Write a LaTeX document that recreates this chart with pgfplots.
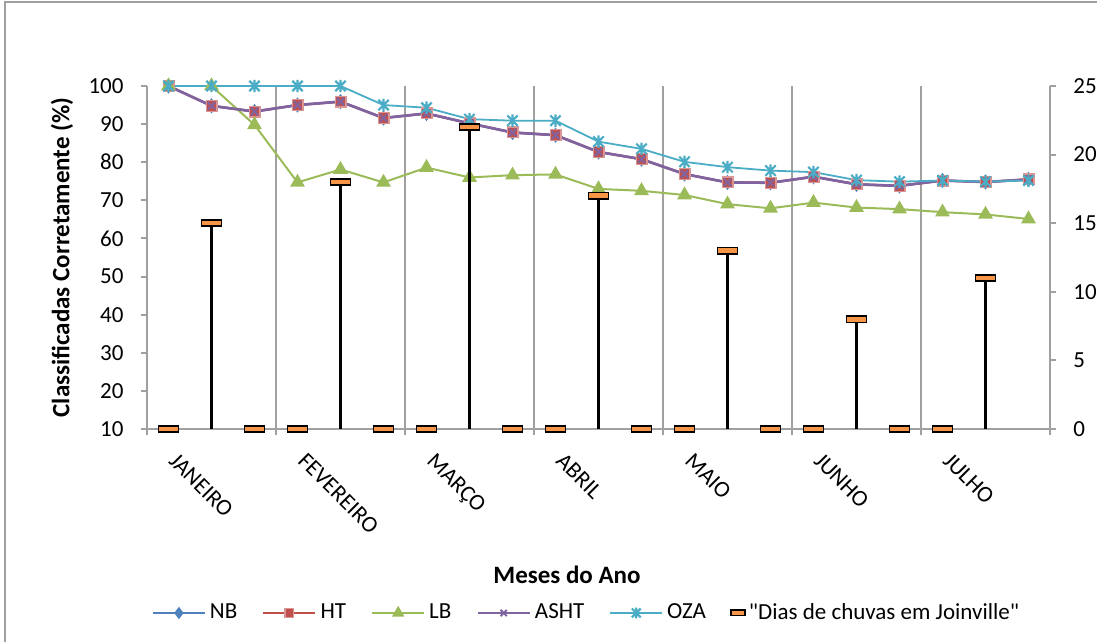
\documentclass[border=0pt]{standalone}
\usepackage{pgfplots}
\pgfplotsset{compat=1.18}
\usepackage{pgfplotstable}
\usepackage{fontspec}
\setmainfont{Carlito}
\definecolor{nbc}{HTML}{4F81BD}
\definecolor{htc}{HTML}{C0504D}
\definecolor{lbc}{HTML}{9BBB59}
\definecolor{ashtc}{HTML}{8064A2}
\definecolor{ozac}{HTML}{4BACC6}
\definecolor{rainc}{HTML}{F79646}
\definecolor{axc}{HTML}{A0A0A0}

\pgfdeclareplotmark{rainbar}{\pgfpathrectangle{\pgfpoint{-5pt}{-1.6pt}}{\pgfpoint{10pt}{3.2pt}}\pgfusepathqfillstroke}
\pgfdeclareplotmark{rainbarsmall}{\pgfpathrectangle{\pgfpoint{-3.5pt}{-1.3pt}}{\pgfpoint{7pt}{2.6pt}}\pgfusepathqfillstroke}
\pgfdeclareplotmark{xstar}{%
 \pgfpathmoveto{\pgfpoint{-\pgfplotmarksize}{-\pgfplotmarksize}}\pgfpathlineto{\pgfpoint{\pgfplotmarksize}{\pgfplotmarksize}}%
 \pgfpathmoveto{\pgfpoint{-\pgfplotmarksize}{\pgfplotmarksize}}\pgfpathlineto{\pgfpoint{\pgfplotmarksize}{-\pgfplotmarksize}}%
 \pgfpathmoveto{\pgfpoint{0pt}{-1.2\pgfplotmarksize}}\pgfpathlineto{\pgfpoint{0pt}{1.2\pgfplotmarksize}}%
 \pgfusepathqstroke}

\pgfplotstableread{
x nb ht lb asht oza
0 100 100 100 100 100
1 94.8 94.8 100 94.8 100
2 93.3 93.3 89.8 93.3 100
3 95.0 95.0 74.7 95.0 100
4 95.9 95.9 78.1 95.9 100
5 91.6 91.6 74.7 91.6 95.0
6 92.8 92.8 78.6 92.8 94.3
7 90.2 90.2 76.0 90.2 91.3
8 87.8 87.8 76.6 87.8 90.9
9 87.1 87.1 76.8 87.1 90.9
10 82.7 82.7 73.0 82.7 85.4
11 80.8 80.8 72.5 80.8 83.5
12 76.9 76.9 71.4 76.9 80.1
13 74.7 74.7 69.0 74.7 78.7
14 74.6 74.6 67.9 74.6 77.8
15 76.2 76.2 69.4 76.2 77.4
16 74.2 74.2 68.1 74.2 75.3
17 73.8 73.8 67.7 73.8 74.9
18 75.2 75.2 66.9 75.2 75.2
19 74.8 74.8 66.3 74.8 74.9
20 75.5 75.5 65.1 75.5 75.2
}\lines

\pgfplotstableread{
x r
0 0
1 15
2 0
3 0
4 18
5 0
6 0
7 22
8 0
9 0
10 17
11 0
12 0
13 13
14 0
15 0
16 8
17 0
18 0
19 11
}\rain

\pgfplotsset{
  nbst/.style={color=nbc, line width=1pt, mark=diamond*, mark size=3pt, mark options={fill=nbc, draw=nbc, solid}},
  htst/.style={color=htc, line width=1.2pt, mark=square*, mark size=2.7pt, mark options={fill=htc, draw=htc!60, line width=0.6pt, solid}},
  lbst/.style={color=lbc, line width=1pt, mark=triangle*, mark size=3.3pt, mark options={fill=lbc, draw=lbc, solid}},
  ashtst/.style={color=ashtc, line width=1.3pt, mark=x, mark size=2.6pt, mark options={draw=ashtc, line width=1pt, solid}},
  ozast/.style={color=ozac, line width=0.9pt, mark=xstar, mark size=2.6pt, mark options={draw=ozac, line width=1.1pt, solid}},
  rainst/.style={only marks, mark=rainbar, mark options={fill=rainc, draw=black, line width=0.9pt, solid}},
  myax/.style={scale only axis, width=451.5pt, height=171.5pt, at={(73.5pt,106.5pt)}, anchor=south west,
    xmin=-0.5, xmax=20.5,
    axis line style={axc, line width=1pt},
    tick style={axc, line width=1pt},
    tick align=outside, major tick length=3.2pt,
    tick label style={font=\fontsize{11.5}{13}\selectfont, text=black},
    /pgf/number format/assume math mode=true,
    label style={font=\fontsize{12.5}{14}\selectfont\bfseries},
  },
}

\begin{document}
\begin{tikzpicture}[x=1pt,y=1pt]
\path[use as bounding box] (0,0) rectangle (548.5,321);
\draw[axc, line width=1pt] (2.5,-20) -- (2.5,320) -- (570,320);

\begin{axis}[myax,
  ymin=10, ymax=100, ytick={10,20,...,100},
  axis x line*=bottom, axis y line*=left,
  xtick={-0.5,2.5,...,20.5}, xticklabels={},
  xmajorgrids, grid style={axc, line width=1pt},
  extra x ticks={0,3,...,18},
  extra x tick labels={JANEIRO,FEVEREIRO,MARÇO,ABRIL,MAIO,JUNHO,JULHO},
  extra x tick style={major tick length=0pt, grid=none,
     xticklabel style={rotate=-45, anchor=north west, xshift=8pt, yshift=-1pt}},
  yticklabel style={xshift=-5pt},
  xlabel={Meses do Ano},
  xlabel style={at={(axis description cs:0.4651,-0.4257)}, anchor=center},
  ylabel={Classificadas Corretamente (\%)},
  ylabel style={at={(axis description cs:-0.0941,0.5)}, anchor=center},
]
\addplot[nbst] table[x=x,y=nb]{\lines};
\addplot[htst] table[x=x,y=ht]{\lines};
\addplot[lbst] table[x=x,y=lb]{\lines};
\addplot[ashtst] table[x=x,y=asht]{\lines};
\addplot[ozast] table[x=x,y=oza]{\lines};
\end{axis}

\begin{axis}[myax,
  ymin=0, ymax=25, ytick={0,5,...,25},
  axis y line*=right, axis x line=none,
  yticklabel style={xshift=5pt},
  legend columns=6,
  legend image code/.code={\draw[mark repeat=2,mark phase=2,#1] plot coordinates {(0pt,0pt)(13pt,0pt)(26pt,0pt)};},
  legend style={draw=none, fill=none, at={(0.4878,-0.5364)}, anchor=center,
    font=\fontsize{11.5}{13}\selectfont,
    /tikz/every even column/.append style={column sep=10.5pt}},
  legend cell align=left,
]
\addlegendimage{nbst, mark size=2.3pt}\addlegendentry{NB}
\addlegendimage{htst, mark size=2.2pt}\addlegendentry{HT}
\addlegendimage{lbst, mark size=2.6pt}\addlegendentry{LB}
\addlegendimage{ashtst, mark size=2.2pt}\addlegendentry{ASHT}
\addlegendimage{ozast, mark size=2.2pt}\addlegendentry{OZA}
\addlegendimage{rainst, mark=rainbarsmall}\addlegendentry{\textquotedbl Dias de chuvas em Joinville\textquotedbl}
\addplot[ycomb, black, line width=1.1pt, forget plot] table[x=x,y=r]{\rain};
\addplot[rainst, forget plot] table[x=x,y=r]{\rain};
\end{axis}
\end{tikzpicture}
\end{document}
